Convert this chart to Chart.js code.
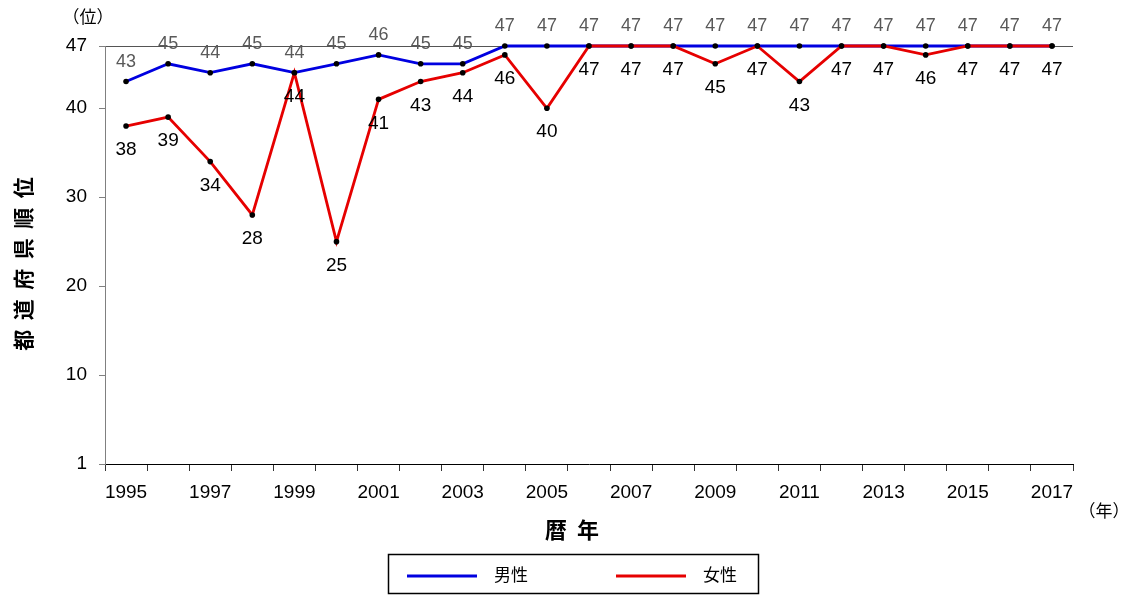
<!DOCTYPE html>
<html>
<head>
<meta charset="utf-8">
<script src="https://cdn.jsdelivr.net/npm/chart.js@4"></script>
<style>
  body { margin: 0; background: #fff; }
  canvas { display: block; }
</style>
</head>
<body>
<canvas id="rankChart" width="1126" height="595"></canvas>
<script>
const years = ["1995", "1996", "1997", "1998", "1999", "2000", "2001", "2002", "2003", "2004", "2005", "2006",
  "2007", "2008", "2009", "2010", "2011", "2012", "2013", "2014", "2015", "2016", "2017"];
const maleRank = [43, 45, 44, 45, 44, 45, 46, 45, 45, 47, 47, 47, 47, 47, 47, 47, 47, 47, 47, 47, 47, 47, 47];
const femaleRank = [38, 39, 34, 28, 44, 25, 41, 43, 44, 46, 40, 47, 47, 47, 45, 47, 43, 47, 47, 46, 47, 47, 47];
const yTickValues = [0, 10, 20, 30, 40, 47];
const yTickLabels = ["1", "10", "20", "30", "40", "47"];

const NUM_FONT = "'Liberation Sans', Arial, sans-serif";
const CJK_FONT = "'Noto Sans CJK JP', sans-serif";

// point value labels: male above in grey, female below in black
const pointLabels = {
  id: "pointLabels",
  afterDatasetsDraw(chart) {
    const ctx = chart.ctx;
    ctx.save();
    ctx.textAlign = "center";
    ctx.textBaseline = "middle";
    chart.data.datasets.forEach((ds, i) => {
      const meta = chart.getDatasetMeta(i);
      const isMale = ds.label === "男性";
      ctx.font = isMale ? "18px " + NUM_FONT : "19px " + NUM_FONT;
      ctx.fillStyle = isMale ? "#595959" : "#000";
      meta.data.forEach((pt, j) => {
        ctx.fillText(String(ds.data[j]), pt.x, pt.y + (isMale ? -20 : 24));
      });
    });
    ctx.restore();
  }
};

// boxed legend, axis titles and unit notes
const extras = {
  id: "extras",
  afterDraw(chart) {
    const ctx = chart.ctx;
    ctx.save();
    ctx.strokeStyle = "#000";
    ctx.lineWidth = 1.5;
    ctx.strokeRect(388.5, 554.5, 370, 39);

    const items = [
      { ds: chart.data.datasets[0], x: 407 },
      { ds: chart.data.datasets[1], x: 616 }
    ];
    ctx.font = "17px " + CJK_FONT;
    ctx.textBaseline = "middle";
    ctx.textAlign = "left";
    items.forEach((it) => {
      ctx.strokeStyle = it.ds.borderColor;
      ctx.lineWidth = 3;
      ctx.beginPath();
      ctx.moveTo(it.x, 576);
      ctx.lineTo(it.x + 70, 576);
      ctx.stroke();
      ctx.fillStyle = "#000";
      ctx.fillText(it.ds.label, it.x + 87, 575);
    });

    ctx.textAlign = "center";
    ctx.font = "bold 22px " + CJK_FONT;
    ctx.fillText("暦  年", 572, 530);

    ctx.save();
    ctx.translate(23, 264);
    ctx.rotate(-Math.PI / 2);
    ctx.font = "bold 21px " + CJK_FONT;
    ctx.fillText("都  道  府  県  順  位", 0, 0);
    ctx.restore();

    ctx.font = "17px " + CJK_FONT;
    ctx.fillText("（位）", 88, 17);
    ctx.fillText("（年）", 1104, 511);
    ctx.restore();
  }
};

new Chart(document.getElementById("rankChart"), {
  type: "line",
  data: {
    labels: years,
    datasets: [
      {
        label: "男性",
        data: maleRank,
        borderColor: "#0000e0",
        backgroundColor: "#0000e0",
        borderWidth: 2.8,
        pointRadius: 2.8,
        pointBackgroundColor: "#000",
        pointBorderColor: "#000",
        pointBorderWidth: 0,
        tension: 0,
        clip: false,
        order: 1
      },
      {
        label: "女性",
        data: femaleRank,
        borderColor: "#e60000",
        backgroundColor: "#e60000",
        borderWidth: 2.8,
        pointRadius: 2.8,
        pointBackgroundColor: "#000",
        pointBorderColor: "#000",
        pointBorderWidth: 0,
        tension: 0,
        clip: false,
        order: 0
      }
    ]
  },
  options: {
    responsive: false,
    animation: false,
    layout: { padding: { left: 0, right: 53, top: 46, bottom: 51 } },
    plugins: {
      legend: { display: false },
      tooltip: { enabled: false }
    },
    scales: {
      x: {
        offset: true,
        grid: {
          offset: true,
          drawOnChartArea: false,
          tickLength: 7,
          tickColor: "#333"
        },
        border: { color: "#000", width: 1 },
        ticks: {
          padding: 10,
          autoSkip: false,
          maxRotation: 0,
          color: "#000",
          font: { family: NUM_FONT, size: 19 },
          callback: (value, index) => (index % 2 === 0 ? years[index] : "")
        },
        afterFit(scale) {
          scale.height = 80;
        }
      },
      y: {
        min: 0,
        max: 47,
        afterBuildTicks(scale) {
          scale.ticks = yTickValues.map((v) => ({ value: v }));
        },
        grid: {
          tickLength: 6,
          tickColor: "#808080",
          color: (c) => (c.tick && c.tick.value === 47 ? "#555" : "rgba(0,0,0,0)")
        },
        border: { color: "#808080", width: 1 },
        ticks: {
          padding: 12,
          color: "#000",
          font: { family: NUM_FONT, size: 19 },
          callback: (value) => yTickLabels[yTickValues.indexOf(value)]
        },
        afterFit(scale) {
          scale.width = 105;
        }
      }
    }
  },
  plugins: [pointLabels, extras]
});
</script>
</body>
</html>
